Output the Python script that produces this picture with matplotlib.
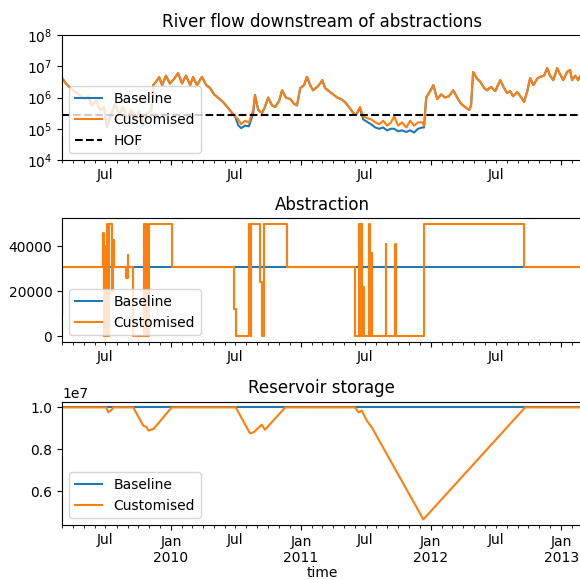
import numpy as np
import pandas as pd
import matplotlib
matplotlib.use("Agg")
import matplotlib.pyplot as plt
import matplotlib.dates as mdates
from matplotlib.ticker import FuncFormatter, NullLocator

START = pd.Timestamp("2009-03-01")
END = pd.Timestamp("2013-02-28")

# river flow downstream of abstractions (days after START)
flow_days = [
    0, 11, 28, 45, 62, 73, 84, 96, 107, 118, 126, 138, 149, 160, 171, 183,
    194, 205, 216, 228, 239, 250, 256, 264, 273, 281, 292, 303, 315, 326,
    337, 348, 360, 368, 379, 393, 405, 416, 427, 438, 452, 464, 475, 486,
    495, 503, 514, 525, 537, 542, 551, 562, 570, 579, 590, 599, 610, 618,
    629, 641, 652, 660, 669, 680, 688, 697, 705, 717, 725, 731, 739, 750,
    762, 773, 784, 795, 806, 818, 826, 837, 846, 857, 868, 880, 891, 902,
    913, 924, 933, 944, 955, 967, 978, 989, 1000, 1012, 1017, 1023, 1034,
    1043, 1054, 1065, 1076, 1087, 1099, 1110, 1121, 1132, 1144, 1149, 1155,
    1166, 1175, 1186, 1194, 1205, 1217, 1231, 1242, 1250, 1259, 1267, 1279,
    1290, 1298, 1307, 1315, 1324, 1335, 1343, 1354, 1363, 1371, 1380, 1391,
    1399, 1408, 1419, 1427, 1433, 1442, 1450, 1456,
]
flow_custom = [
    4.2e6, 2.8e6, 1.8e6, 1.3e6, 9.0e5, 1.1e6, 5.6e5, 8.0e5, 4.0e5, 5.0e5,
    1.4e5, 3.2e5, 6.3e5, 2.8e5, 5.0e5, 2.2e5, 4.0e5, 2.0e5, 3.5e5, 1.6e5,
    3.2e5, 3.5e5, 2.5e6, 3.2e6, 4.5e6, 2.5e6, 5.0e6, 2.8e6, 4.0e6, 6.0e6,
    2.8e6, 5.0e6, 2.5e6, 4.5e6, 2.5e6, 4.6e6, 2.5e6, 2.0e6, 1.26e6, 1.0e6,
    7.2e5, 5.0e5, 3.5e5, 2.5e5, 2.0e5, 1.4e5, 1.8e5, 1.6e5, 4.0e5, 1.2e6,
    4.0e5, 3.2e5, 5.0e5, 1.0e6, 5.6e5, 5.0e5, 7.9e5, 1.7e6, 1.0e6, 8.9e5,
    6.3e5, 5.6e5, 2.0e6, 2.5e6, 4.6e6, 2.5e6, 1.7e6, 2.2e6, 2.8e6, 3.6e6,
    2.0e6, 1.6e6, 1.26e6, 1.0e6, 8.9e5, 7.1e5, 5.0e5, 3.2e5, 2.8e5, 5.0e5,
    2.5e5, 2.2e5, 2.0e5, 1.6e5, 1.4e5, 1.8e5, 1.26e5, 1.6e5, 2.5e5, 1.26e5,
    1.6e5, 1.1e5, 1.8e5, 1.26e5, 1.6e5, 1.6e5, 1.26e5, 1.0e6, 1.6e6, 2.5e6,
    8.9e5, 1.26e6, 1.0e6, 1.1e6, 1.7e6, 1.0e6, 6.3e5, 5.0e5, 4.0e5, 5.6e5,
    6.6e6, 4.0e6, 3.2e6, 2.0e6, 1.7e6, 2.2e6, 1.6e6, 3.6e6, 2.0e6, 1.4e6,
    1.6e6, 1.1e6, 1.5e6, 1.0e6, 7.2e5, 1.6e6, 4.2e6, 2.5e6, 4.0e6, 4.6e6,
    5.0e6, 8.7e6, 5.0e6, 3.6e6, 8.7e6, 5.6e6, 3.6e6, 6.6e6, 7.6e6, 3.6e6,
    5.0e6, 3.6e6, 5.0e6,
]
flow_base = [
    4.2e6, 2.8e6, 1.8e6, 1.3e6, 9.0e5, 1.1e6, 5.6e5, 8.0e5, 4.0e5, 4.5e5,
    1.15e5, 2.8e5, 6.3e5, 2.8e5, 5.0e5, 2.2e5, 4.0e5, 2.0e5, 3.5e5, 1.3e5,
    3.2e5, 3.5e5, 2.5e6, 3.2e6, 4.5e6, 2.5e6, 5.0e6, 2.8e6, 4.0e6, 6.0e6,
    2.8e6, 5.0e6, 2.5e6, 4.5e6, 2.5e6, 4.6e6, 2.5e6, 2.0e6, 1.26e6, 1.0e6,
    7.2e5, 5.0e5, 3.5e5, 2.5e5, 1.3e5, 1.05e5, 1.26e5, 1.2e5, 3.2e5, 1.2e6,
    4.0e5, 3.2e5, 5.0e5, 1.0e6, 5.6e5, 5.0e5, 7.9e5, 1.7e6, 1.0e6, 8.9e5,
    6.3e5, 5.6e5, 2.0e6, 2.5e6, 4.6e6, 2.5e6, 1.7e6, 2.2e6, 2.8e6, 3.6e6,
    2.0e6, 1.6e6, 1.26e6, 1.0e6, 8.9e5, 7.1e5, 5.0e5, 3.2e5, 2.8e5, 4.5e5,
    2.0e5, 1.66e5, 1.4e5, 1.1e5, 1.0e5, 1.1e5, 8.9e4, 1.0e5, 1.0e5, 8.3e4,
    8.9e4, 7.9e4, 8.9e4, 7.6e4, 1.0e5, 1.1e5, 1.1e5, 1.0e6, 1.6e6, 2.5e6,
    8.9e5, 1.26e6, 1.0e6, 1.1e6, 1.7e6, 1.0e6, 6.3e5, 5.0e5, 4.0e5, 5.6e5,
    6.6e6, 4.0e6, 3.2e6, 2.0e6, 1.7e6, 2.2e6, 1.6e6, 3.6e6, 2.0e6, 1.4e6,
    1.6e6, 1.1e6, 1.5e6, 1.0e6, 7.2e5, 1.6e6, 4.2e6, 2.5e6, 4.0e6, 4.6e6,
    5.0e6, 8.7e6, 5.0e6, 3.6e6, 8.7e6, 5.6e6, 3.6e6, 6.6e6, 7.6e6, 3.6e6,
    5.0e6, 3.6e6, 5.0e6,
]
hof = 2.7e5
flow_ticks = [1e4, 1e5, 1e6, 1e7, 1e8]

# abstraction (step changes, days after START)
abs_base_days = [0, 1, 1460]
abs_base = [10000, 31000, 31000]
abs_custom_days = [
    0, 1, 114, 117, 119, 122, 126, 129, 131, 140, 142, 145, 181, 184, 185,
    200, 229, 232, 235, 237, 240, 243, 308, 483, 490, 526, 530, 532, 556,
    561, 566, 631, 823, 833, 836, 837, 842, 844, 846, 848, 861, 864, 867,
    870, 909, 911, 934, 937, 1017, 1298, 1460,
]
abs_custom = [
    10000, 31000, 46000, 0, 40000, 0, 50000, 0, 50000, 20000, 43000, 31000,
    26000, 36000, 31000, 0, 50000, 0, 28000, 50000, 0, 50000, 31000, 12000,
    0, 50000, 0, 50000, 24000, 0, 50000, 31000, 0, 50000, 0, 50000, 37000,
    0, 22000, 0, 50000, 0, 37000, 0, 41000, 0, 41000, 0, 50000, 31000, 31000,
]

# reservoir storage
stor_base_days = [0, 1460]
stor_base = [1.0e7, 1.0e7]
stor_custom_days = [
    0, 124, 130, 140, 144, 200, 228, 238, 243, 257, 308, 488, 528, 538, 561,
    570, 627, 823, 833, 842, 856, 870, 1015, 1301, 1460,
]
stor_custom = [
    1.0e7, 1.0e7, 0.976e7, 0.99e7, 1.0e7, 1.0e7, 0.913e7, 0.905e7, 0.889e7,
    0.897e7, 1.0e7, 1.0e7, 0.876e7, 0.881e7, 0.917e7, 0.893e7, 1.0e7, 1.0e7,
    0.976e7, 0.984e7, 0.937e7, 0.905e7, 0.465e7, 1.0e7, 1.0e7,
]


def to_dates(days):
    return START + pd.to_timedelta(days, unit="D")


def jul_only(x, pos):
    d = mdates.num2date(x)
    return "Jul" if d.month == 7 else ""


def style_time_axis(ax, show_years):
    ax.xaxis.set_major_locator(mdates.MonthLocator(bymonth=1))
    ax.xaxis.set_major_formatter(mdates.DateFormatter("%b\n%Y"))
    ax.xaxis.set_minor_locator(mdates.MonthLocator())
    ax.xaxis.set_minor_formatter(FuncFormatter(jul_only))
    ax.tick_params(axis="x", which="major", labelbottom=show_years)
    ax.set_xlim(START, END)


fig = plt.figure(figsize=(5.8, 5.8), dpi=100)
left, width, height = 0.107, 0.896, 0.2155
ax1 = fig.add_axes([left, 0.7241, width, height])
ax2 = fig.add_axes([left, 0.4103, width, height - 0.002])
ax3 = fig.add_axes([left, 0.0948, width, height - 0.003])

ax1.plot(to_dates(flow_days), flow_base, label="Baseline")
ax1.plot(to_dates(flow_days), flow_custom, label="Customised")
ax1.axhline(hof, color="k", linestyle="--", label="HOF")
ax1.set_yscale("log")
ax1.set_ylim(1e4, 1e8)
ax1.set_yticks(flow_ticks)
ax1.yaxis.set_minor_locator(NullLocator())
ax1.set_title("River flow downstream of abstractions")
ax1.legend(loc="lower left")
style_time_axis(ax1, False)

ax2.plot(to_dates(abs_base_days), abs_base, drawstyle="steps-post", label="Baseline")
ax2.plot(to_dates(abs_custom_days), abs_custom, drawstyle="steps-post", label="Customised")
ax2.set_yticks([0, 20000, 40000])
ax2.set_title("Abstraction")
ax2.legend(loc="lower left")
style_time_axis(ax2, False)

ax3.plot(to_dates(stor_base_days), stor_base, label="Baseline")
ax3.plot(to_dates(stor_custom_days), stor_custom, label="Customised")
ax3.set_title("Reservoir storage")
ax3.legend(loc="lower left")
ax3.set_xlabel("time", labelpad=1)
style_time_axis(ax3, True)

fig.savefig("out.png", dpi=100)
